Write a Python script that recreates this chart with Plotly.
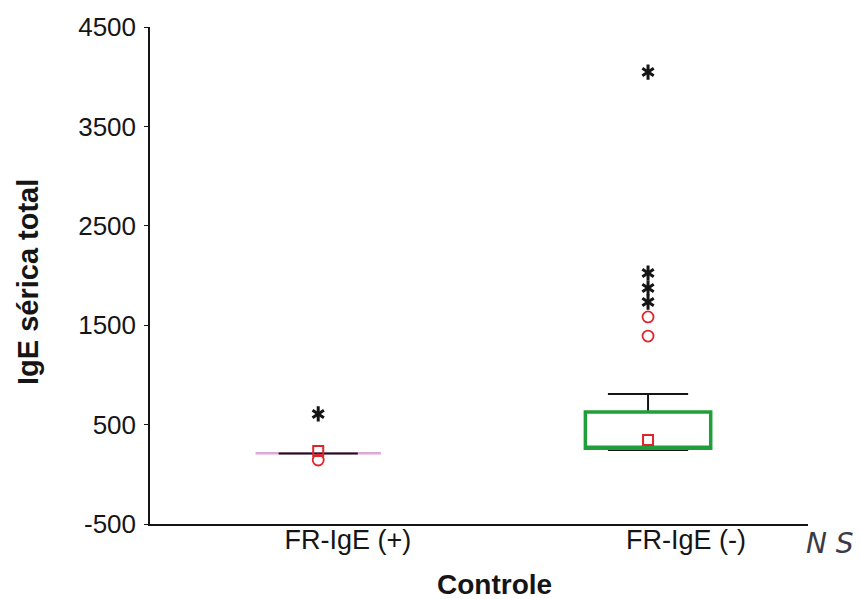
import plotly.graph_objects as go

# ---- data ----
groups = ["FR-IgE (+)", "FR-IgE (-)"]
group_pos = [1, 2]
label_pos = [1.09, 2.115]

# box statistics
q1 = [212, 262]
median = [212, 262]
q3 = [212, 627]
lower_fence = [210, 245]
upper_fence = [210, 808]
means = [234, 345]

# outliers: circles (mild) and asterisks (extreme)
circle_x = [1, 2, 2]
circle_y = [144, 1391, 1583]
star_x = [1, 2, 2, 2, 2]
star_y = [607, 1733, 1874, 2025, 4047]

y_ticks = [-500, 500, 1500, 2500, 3500, 4500]

FONT = "Liberation Sans, Arial, sans-serif"
RED = "#e0242c"
GREEN = "#1f9e3a"
PINK = "#dfa6da"
BLACK = "#151515"

# the page body has an 8px margin: the figure is drawn 8px right/down
W, H = 853, 591
OFF = 8
L, T = 150 - OFF, 27 - OFF
R = W - (808 - OFF)
B = H - (524 - OFF)
PW, PH = W - L - R, H - T - B


def px(x):
    return (x - OFF - L) / PW


def py(y):
    return 1 - (y - OFF - T) / PH


fig = go.Figure()

# group 1: pink collapsed box, then black whisker line on top
fig.add_trace(go.Box(
    x=[group_pos[0]], q1=[q1[0]], median=[median[0]], q3=[q3[0]],
    lowerfence=[q1[0]], upperfence=[q3[0]],
    width=0.38, whiskerwidth=0, boxpoints=False,
    line=dict(color=PINK, width=2.5), fillcolor="rgba(0,0,0,0)",
    showlegend=False, hoverinfo="skip"))
fig.add_trace(go.Box(
    x=[group_pos[0]], q1=[lower_fence[0]], median=[lower_fence[0]], q3=[upper_fence[0]],
    lowerfence=[lower_fence[0]], upperfence=[upper_fence[0]],
    width=0.24, whiskerwidth=1, boxpoints=False,
    line=dict(color=BLACK, width=2), fillcolor="rgba(0,0,0,0)",
    showlegend=False, hoverinfo="skip"))

# group 2: black whiskers, then green box on top
fig.add_trace(go.Box(
    x=[group_pos[1]], q1=[q1[1]], median=[median[1]], q3=[q3[1]],
    lowerfence=[lower_fence[1]], upperfence=[upper_fence[1]],
    width=0.38, whiskerwidth=0.64, boxpoints=False,
    line=dict(color=BLACK, width=2), fillcolor="white",
    showlegend=False, hoverinfo="skip"))
fig.add_trace(go.Box(
    x=[group_pos[1]], q1=[q1[1]], median=[median[1]], q3=[q3[1]],
    lowerfence=[q1[1]], upperfence=[q3[1]],
    width=0.38, whiskerwidth=0, boxpoints=False,
    line=dict(color=GREEN, width=3.5), fillcolor="white",
    showlegend=False, hoverinfo="skip"))

# means
fig.add_trace(go.Scatter(
    x=group_pos, y=means, mode="markers",
    marker=dict(symbol="square-open", size=10, color=RED, line=dict(width=2, color=RED)),
    showlegend=False, hoverinfo="skip"))
# circles
fig.add_trace(go.Scatter(
    x=circle_x, y=circle_y, mode="markers",
    marker=dict(symbol="circle-open", size=11, color=RED, line=dict(width=1.8, color=RED)),
    showlegend=False, hoverinfo="skip"))
# asterisks (6-armed: two Y markers overlaid)
for sym in ["y-up-open", "y-down-open"]:
    fig.add_trace(go.Scatter(
        x=star_x, y=star_y, mode="markers",
        marker=dict(symbol=sym, size=9.5, color=BLACK, line=dict(width=3, color=BLACK)),
        showlegend=False, hoverinfo="skip"))

fig.update_layout(
    width=W, height=H,
    margin=dict(l=L, r=R, t=T, b=B, autoexpand=False),
    paper_bgcolor="white", plot_bgcolor="white",
    boxmode="overlay",
    font=dict(family=FONT, color=BLACK),
    xaxis=dict(
        range=[0.49, 2.485], showgrid=False, zeroline=False,
        showline=True, linecolor=BLACK, linewidth=1.5,
        tickmode="array", tickvals=label_pos, ticktext=groups,
        ticks="", tickfont=dict(size=27, family=FONT, color=BLACK),
        ticklabelstandoff=-9,
    ),
    yaxis=dict(
        range=[-500, 4500], showgrid=False, zeroline=False,
        showline=True, linecolor=BLACK, linewidth=1.5,
        tickmode="array", tickvals=y_ticks, ticktext=[str(v) for v in y_ticks],
        ticks="outside", ticklen=4, tickwidth=1, tickcolor=BLACK,
        tickfont=dict(size=26, family=FONT, color=BLACK),
        ticklabelstandoff=3,
    ),
    annotations=[
        dict(text="<b>Controle</b>", xref="paper", yref="paper",
             x=px(494), y=py(584), xanchor="center", yanchor="middle",
             showarrow=False, font=dict(size=28, family=FONT, color=BLACK)),
        dict(text="<b>IgE sérica total</b>", xref="paper", yref="paper",
             x=px(28), y=py(282), xanchor="center", yanchor="middle",
             textangle=-90, showarrow=False, font=dict(size=29, family=FONT, color=BLACK)),
        dict(text="<i>N S</i>", xref="paper", yref="paper",
             x=px(830), y=py(543), xanchor="center", yanchor="middle",
             showarrow=False, font=dict(size=28, family="DejaVu Sans, sans-serif", color="#3a3a48")),
    ],
)

fig.write_html("out.html")
